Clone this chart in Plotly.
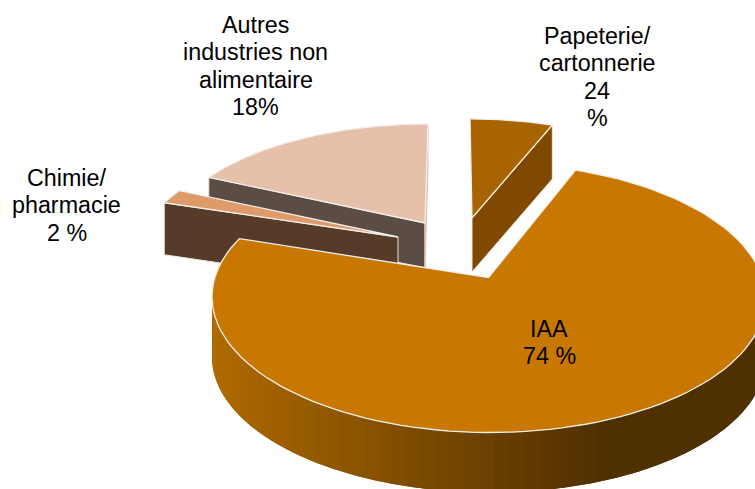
import numpy as np
import plotly.graph_objects as go

# Data (slice shares; label text as printed on the chart)
categories = ["Papeterie/ cartonnerie", "IAA", "Chimie/ pharmacie", "Autres industries non alimentaire"]
shares = [6, 74, 2, 18]
labels = [["Papeterie/", "cartonnerie", "24", "%"], ["IAA", "74 %"], ["Chimie/", "pharmacie", "2 %"],
          ["Autres", "industries non", "alimentaire", "18%"]]
top_colors = ["#A86400", "#C87800", "#DE9A68", "#E6C0AB"]
side_colors = ["#7F4A00", "#7F4A00", "#573B29", "#5C4D44"]

W, H = 755, 489
RX, RY, K = 273.6, 131.75, 0.15
# apex x, apex y, x scale, y scale, shear, thickness, per slice
GEOM = [(472, 218, 0.93, 0.865, 0.02, 54),
        (488.5, 277.5, 1.0, 1.0, 0.012, 60),
        (398, 237, 0.94, 0.88, 0.0, 52),
        (425, 223, 0.935, 0.865, -0.03, 45)]
LABEL_POS = [(597, 36), (549, 329), (66.5, 178), (255.5, 25)]
LINE_GAP = 27.4

edges = np.cumsum([0] + shares) / sum(shares) * 2 * np.pi


def rim(i, n=120):
    ax, ay, sx, sy, sh, _ = GEOM[i]
    t = np.linspace(edges[i], edges[i + 1], n)
    X, Y = np.sin(t), np.cos(t)
    d = 1 + K * Y
    dy = -RY * sy * Y / d
    dx = RX * sx * X / d + sh * dy
    return ax + dx, ay + dy


def poly(fig, x, y, fill, line=None, lw=0.0):
    fig.add_trace(go.Scatter(x=list(x), y=list(y), mode="lines", fill="toself", fillcolor=fill,
                             line=dict(color=line or fill, width=lw), hoverinfo="skip", showlegend=False))


fig = go.Figure()


def flat_face(fig, i, px, py, color, line="#EDE6E0"):
    ax, ay, *_, th = GEOM[i]
    poly(fig, [ax, px, px, ax, ax], [ay, py, py + th, ay + th, ay], color, line, 1.0)


def top_face(fig, i):
    ax, ay = GEOM[i][:2]
    rx, ry = rim(i)
    poly(fig, [ax, *rx, ax], [ay, *ry, ay], top_colors[i], "#F2EEEA", 1.3)


# Papeterie
rx, ry = rim(0)
flat_face(fig, 0, rx[-1], ry[-1], side_colors[0])
top_face(fig, 0)

# Autres
rx, ry = rim(3)
flat_face(fig, 3, rx[0], ry[0], side_colors[3])
flat_face(fig, 3, rx[-1], ry[-1], "#DCC3B5", "#DCC3B5")
top_face(fig, 3)

# Chimie
rx, ry = rim(2)
flat_face(fig, 2, rx[0], ry[0], side_colors[2])
top_face(fig, 2)

# IAA rim with a horizontal shade; each strip overlaps the next so no seams show
rx, ry = rim(1, 300)
th = GEOM[1][5]
c0, c1 = np.array([0xB0, 0x6A, 0x00]), np.array([0x4F, 0x30, 0x00])
step = 3
for j in range(0, len(rx) - 1 - step, step):
    e = min(j + 2 * step, len(rx) - 1)
    if ry[e] < GEOM[1][1] and ry[j] < GEOM[1][1]:
        continue
    xs, ys = rx[j:e + 1], ry[j:e + 1]
    f = np.clip((rx[j] - 215) / (610 - 215), 0, 1)
    col = "rgb(%d,%d,%d)" % tuple(c0 + (c1 - c0) * f)
    fig.add_trace(go.Scatter(x=[*xs, *xs[::-1], xs[0]], y=[*ys, *(ys[::-1] + th), ys[0]], mode="none",
                             fill="toself", fillcolor=col, hoverinfo="skip", showlegend=False))
top_face(fig, 1)

for (lx, ly), lines in zip(LABEL_POS, labels):
    for n, text in enumerate(lines):
        fig.add_annotation(x=lx, y=ly + n * LINE_GAP, text=text, showarrow=False, xanchor="center", yanchor="middle",
                           font=dict(family="Liberation Sans", size=23.3, color="#000000"))

fig.update_layout(width=W, height=H, margin=dict(l=0, r=0, t=0, b=0), paper_bgcolor="white", plot_bgcolor="white",
                  showlegend=False,
                  xaxis=dict(range=[0, W], visible=False, fixedrange=True),
                  yaxis=dict(range=[H, 0], visible=False, fixedrange=True))
fig.write_html("out.html", config=dict(displayModeBar=False),
               post_script="document.body.style.margin='0';document.documentElement.style.overflow='hidden';")
